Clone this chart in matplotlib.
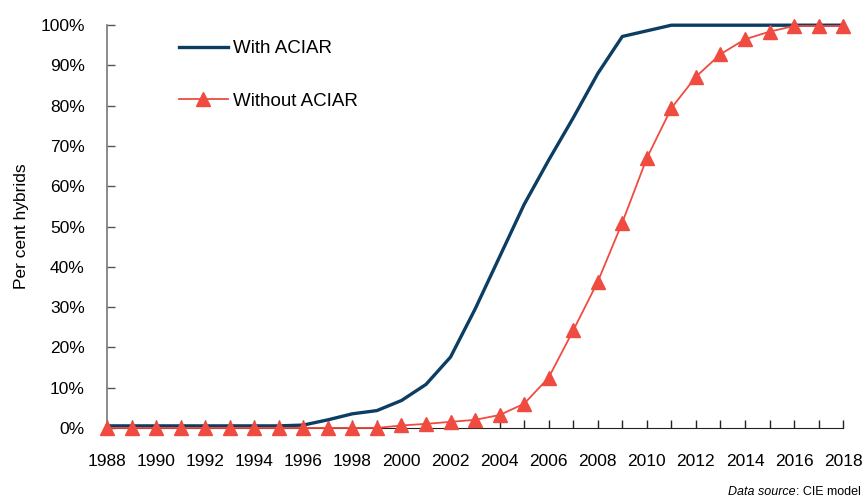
import matplotlib.pyplot as plt
from matplotlib.ticker import FuncFormatter

plt.rcParams['font.family'] = ['Liberation Sans', 'DejaVu Sans']

years = list(range(1988, 2019))

# share of hybrids (%)
with_aciar = [0.5, 0.5, 0.5, 0.5, 0.5, 0.5, 0.5, 0.5, 0.7, 2.0,
              3.5, 4.3, 6.8, 10.8, 17.6, 29.5, 42.5, 55.5, 66.5, 77.0,
              88.0, 97.2, 98.6, 100, 100, 100, 100, 100, 100, 100, 100]
without_aciar = [0, 0, 0, 0, 0, 0, 0, 0, 0, 0,
                 0, 0, 0.6, 1.0, 1.5, 2.0, 3.2, 6.0, 12.5, 24.2,
                 36.3, 51.0, 67.0, 79.4, 87.2, 92.8, 96.5, 98.4, 99.8, 99.8, 99.8]

blue = '#0c3d63'
red = '#f04b40'

fig = plt.figure(figsize=(8.63, 5.04), dpi=100)
ax = fig.add_axes([0.124, 0.151, 0.853, 0.799])

ax.plot(years, with_aciar, color=blue, lw=2.4, label='With ACIAR', clip_on=False, zorder=3)
ax.plot(years, without_aciar, color=red, lw=1.3, marker='^', markersize=9.5,
        label='Without ACIAR', clip_on=False, zorder=4)

ax.set_xlim(1988, 2018)
ax.set_ylim(0, 100)
ax.set_xticks(range(1988, 2019, 2))
ax.set_xticks(years, minor=True)
ax.set_yticks(range(0, 101, 10))
ax.yaxis.set_major_formatter(FuncFormatter(lambda v, p: f'{v:.0f}%'))

ax.tick_params(axis='x', which='both', direction='in', length=6, width=1, color='#222222',
               pad=19, labelsize=12.5)
ax.tick_params(axis='y', direction='in', length=6, width=1, color='#555555',
               pad=16, labelsize=12.5)

for s in ['top', 'right']:
    ax.spines[s].set_visible(False)
ax.spines['left'].set_color('#777777')
ax.spines['left'].set_linewidth(1.2)
ax.spines['bottom'].set_color('#222222')

ax.set_ylabel('Per cent hybrids', fontsize=12.5, labelpad=8)

ax.legend(loc='upper left', bbox_to_anchor=(0.075, 1.005), frameon=False, fontsize=13.5,
          handlelength=2.6, handletextpad=0.25, labelspacing=1.9)

# source note: italic part placed just left of the plain part
plain = fig.text(0.997, 0.012, ': CIE model', fontsize=9, ha='right', va='bottom')
fig.canvas.draw()
bb = plain.get_window_extent().transformed(fig.transFigure.inverted())
fig.text(bb.x0, 0.012, 'Data source', fontsize=9, style='italic', ha='right', va='bottom')

fig.savefig('out.png', dpi=100)
